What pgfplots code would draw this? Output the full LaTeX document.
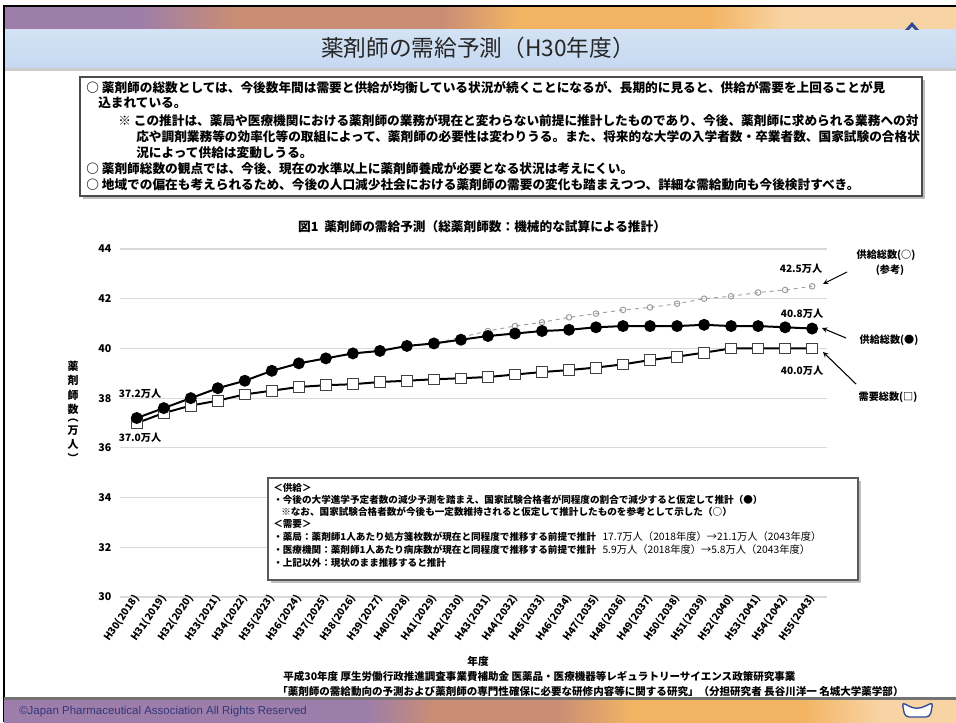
\documentclass[border=0pt]{standalone}
\usepackage{fontspec}
\setmainfont{Noto Sans CJK JP}
\newfontfamily\latinfont{Liberation Sans}
\usepackage{pgfplots}
\pgfplotsset{compat=1.18}
\definecolor{bpurple}{HTML}{9D7DAA}
\definecolor{bsalmon}{HTML}{C98D76}
\definecolor{borange}{HTML}{F2B463}
\definecolor{bpeach}{HTML}{F8D4A4}
\definecolor{titlebar}{HTML}{C6D9F1}
\definecolor{titlebartop}{HTML}{D3E2F4}
\definecolor{gridgray}{HTML}{D9D9D9}
\definecolor{copy}{HTML}{33387A}
\definecolor{logoblue}{HTML}{2E4A9A}
% stops mapped into the visible 25bp--75bp range
\pgfdeclarehorizontalshading{topband}{100bp}{color(0bp)=(bpurple); color(25bp)=(bpurple); color(32bp)=(bpurple); color(37bp)=(bsalmon); color(48bp)=(bsalmon); color(52bp)=(borange); color(62bp)=(borange); color(66bp)=(bpeach); color(75bp)=(bpeach); color(100bp)=(bpeach)}
\pgfdeclarehorizontalshading{botband}{100bp}{color(0bp)=(bpurple); color(25bp)=(bpurple); color(44bp)=(bpurple); color(47.5bp)=(bsalmon); color(54bp)=(bsalmon); color(58bp)=(borange); color(67bp)=(borange); color(71bp)=(bpeach); color(75bp)=(bpeach); color(100bp)=(bpeach)}
\begin{document}
\begin{tikzpicture}
\useasboundingbox (0,0) rectangle (717pt,541.5pt);
\begin{scope}[x=0.75pt,y=-0.75pt,yshift=541.5pt]
  % frame and bands
  \fill[white] (0,0) rectangle (956,722);
  \shade[shading=topband] (4,7) rectangle (956,30);
  \shade[top color=titlebartop, bottom color=titlebar] (4,30) rectangle (956,68);
  \fill[black!20] (4,68) rectangle (956,71);
  \draw[black, line width=1.2pt] (4,722) -- (4,6) -- (956,6);
  \node[font=\fontsize{17}{20}\selectfont, text=black!85] at (478,48) {薬剤師の需給予測（H30年度）};
  \fill[logoblue] (905,30) -- (912,22) -- (919,30) -- (915,30) -- (912,26.5) -- (909,30) -- cycle;
  % upper box
  \fill[black!25] (83,80) rectangle (925,199);
  \draw[black!70, fill=white, line width=0.9pt] (80,77) rectangle (922,196);
  \begin{scope}[every node/.style={anchor=west, inner sep=0pt, font=\fontsize{9.5}{11}\selectfont\bfseries}]
    \node at (86,88) {○\ 薬剤師の総数としては、今後数年間は需要と供給が均衡している状況が続くことになるが、長期的に見ると、供給が需要を上回ることが見};
    \node at (98,103) {込まれている。};
    \node at (118,121) {※\ この推計は、薬局や医療機関における薬剤師の業務が現在と変わらない前提に推計したものであり、今後、薬剤師に求められる業務への対};
    \node at (136,137) {応や調剤業務等の効率化等の取組によって、薬剤師の必要性は変わりうる。また、将来的な大学の入学者数・卒業者数、国家試験の合格状};
    \node at (136,153) {況によって供給は変動しうる。};
    \node at (86,169) {○\ 薬剤師総数の観点では、今後、現在の水準以上に薬剤師養成が必要となる状況は考えにくい。};
    \node at (86,185) {○\ 地域での偏在も考えられるため、今後の人口減少社会における薬剤師の需要の変化も踏まえつつ、詳細な需給動向も今後検討すべき。};
  \end{scope}
  % chart title
  \node[font=\fontsize{9.5}{11}\selectfont\bfseries] at (482,227) {図1\ \ 薬剤師の需給予測（総薬剤師数：機械的な試算による推計）};
  % y label
  \node[font=\fontsize{8.2}{9.8}\selectfont\bfseries, align=center] at (73,412) {\shortstack{薬\\剤\\師\\数\\︵\\万\\人\\︶}};
  % x label and source
  \node[font=\fontsize{8}{10}\selectfont\bfseries] at (478,661) {年度};
  \node[anchor=west, inner sep=0pt, font=\fontsize{7.9}{9}\selectfont\bfseries] at (283,676) {平成30年度\ 厚生労働行政推進調査事業費補助金\ 医薬品・医療機器等レギュラトリーサイエンス政策研究事業};
  \node[anchor=west, inner sep=0pt, font=\fontsize{7.9}{9}\selectfont\bfseries] at (277,691) {「薬剤師の需給動向の予測および薬剤師の専門性確保に必要な研修内容等に関する研究」（分担研究者\ 長谷川洋一\ 名城大学薬学部）};
  % bottom band
  \fill[black!55] (4,697) rectangle (956,700.5);
  \shade[shading=botband] (4,700.5) rectangle (956,722);
  \node[anchor=west, inner sep=0pt, text=copy, font=\latinfont\fontsize{8.6}{10}\selectfont] at (19,712) {©Japan Pharmaceutical Association All Rights Reserved};
  \draw[logoblue, fill=white, line width=1pt, rounded corners=3pt] (902,702) -- (905,717) -- (930,717) -- (933,702) -- (926,706) -- (917,709) -- (908,706) -- cycle;
\end{scope}

\begin{axis}[
  at={(90pt,93.75pt)}, anchor=south west, scale only axis,
  width=530.25pt, height=261pt,
  xmin=-0.62, xmax=25.55, ymin=30, ymax=44,
  ytick={30,32,...,44},
  xtick={0,...,25},
  xticklabels={H30(2018),H31(2019),H32(2020),H33(2021),H34(2022),H35(2023),H36(2024),H37(2025),H38(2026),H39(2027),H40(2028),H41(2029),H42(2030),H43(2031),H44(2032),H45(2033),H46(2034),H47(2035),H48(2036),H49(2037),H50(2038),H51(2039),H52(2040),H53(2041),H54(2042),H55(2043)},
  axis line style={draw=none},
  major tick length=0pt,
  ymajorgrids, grid style={gridgray, line width=0.8pt},
  /pgf/number format/assume math mode=true,
  yticklabel style={font=\fontsize{8}{10}\selectfont\bfseries, xshift=-3pt},
  xticklabel style={rotate=55, anchor=east, font=\fontsize{7.6}{9}\selectfont\bfseries, xshift=4pt, yshift=0pt},
  clip=false,
]
\addplot[gray!75, dashed, line width=0.7pt, mark=o, mark size=2.1pt, mark options={solid, fill=white, draw=gray!80}]
coordinates {(0,37.2)(1,37.6)(2,38.0)(3,38.4)(4,38.7)(5,39.1)(6,39.4)(7,39.6)(8,39.8)(9,39.9)(10,40.1)(11,40.2)(12,40.45)(13,40.7)(14,40.9)(15,41.05)(16,41.25)(17,41.4)(18,41.55)(19,41.65)(20,41.8)(21,42.0)(22,42.1)(23,42.25)(24,42.35)(25,42.5)};
\addplot[black, line width=1.5pt, mark=square*, mark size=4pt, mark options={fill=white, draw=black!75, line width=0.6pt}]
coordinates {(0,37.0)(1,37.4)(2,37.7)(3,37.9)(4,38.15)(5,38.3)(6,38.45)(7,38.52)(8,38.56)(9,38.65)(10,38.7)(11,38.76)(12,38.8)(13,38.85)(14,38.95)(15,39.05)(16,39.13)(17,39.23)(18,39.36)(19,39.53)(20,39.67)(21,39.83)(22,40.0)(23,40.0)(24,40.0)(25,40.0)};
\addplot[black, line width=1.5pt, mark=*, mark size=3.7pt, mark options={fill=black}]
coordinates {(0,37.2)(1,37.6)(2,38.0)(3,38.4)(4,38.7)(5,39.1)(6,39.4)(7,39.6)(8,39.8)(9,39.9)(10,40.1)(11,40.2)(12,40.35)(13,40.5)(14,40.6)(15,40.7)(16,40.75)(17,40.85)(18,40.9)(19,40.9)(20,40.9)(21,40.95)(22,40.9)(23,40.9)(24,40.85)(25,40.8)};
\end{axis}

\begin{scope}[x=0.75pt,y=-0.75pt,yshift=541.5pt, every node/.style={font=\fontsize{7.6}{9}\selectfont\bfseries, inner sep=0pt}]
  \node at (140,394) {37.2万人};
  \node at (140,438) {37.0万人};
  \node at (801,269) {42.5万人};
  \node at (802,314) {40.8万人};
  \node at (802,371) {40.0万人};
  \node at (886,255) {供給総数(○)};
  \node at (890,270) {(参考)};
  \node at (889,340) {供給総数(●)};
  \node at (888,397) {需要総数(□)};
  \draw[-stealth, line width=0.8pt] (847,272) -- (823,284);
  \draw[-stealth, line width=0.8pt] (846,338) -- (822,328);
  \draw[-stealth, line width=0.8pt] (856,384) -- (823,352);
  % notes box (drawn over the grid)
  \fill[black!25] (271,481) rectangle (861,583);
  \draw[black!65, fill=white, line width=0.8pt] (268,478) rectangle (858,580);
  \begin{scope}[every node/.style={anchor=west, inner sep=0pt, font=\fontsize{7.2}{8.6}\selectfont\bfseries}]
    \node at (273,488) {＜供給＞};
    \node at (273,500) {・今後の大学進学予定者数の減少予測を踏まえ、国家試験合格者が同程度の割合で減少すると仮定して推計（●）};
    \node at (281,512) {※なお、国家試験合格者数が今後も一定数維持されると仮定して推計したものを参考として示した（○）};
    \node at (273,524) {＜需要＞};
    \node at (273,537) {・薬局：薬剤師1人あたり処方箋枚数が現在と同程度で推移する前提で推計\ \ \ {\mdseries\fontsize{7.7}{9}\selectfont 17.7万人（2018年度）→21.1万人（2043年度）}};
    \node at (273,550) {・医療機関：薬剤師1人あたり病床数が現在と同程度で推移する前提で推計\ \ \ {\mdseries\fontsize{7.7}{9}\selectfont 5.9万人（2018年度）→5.8万人（2043年度）}};
    \node at (273,563) {・上記以外：現状のまま推移すると推計};
  \end{scope}
\end{scope}
\end{tikzpicture}
\end{document}
